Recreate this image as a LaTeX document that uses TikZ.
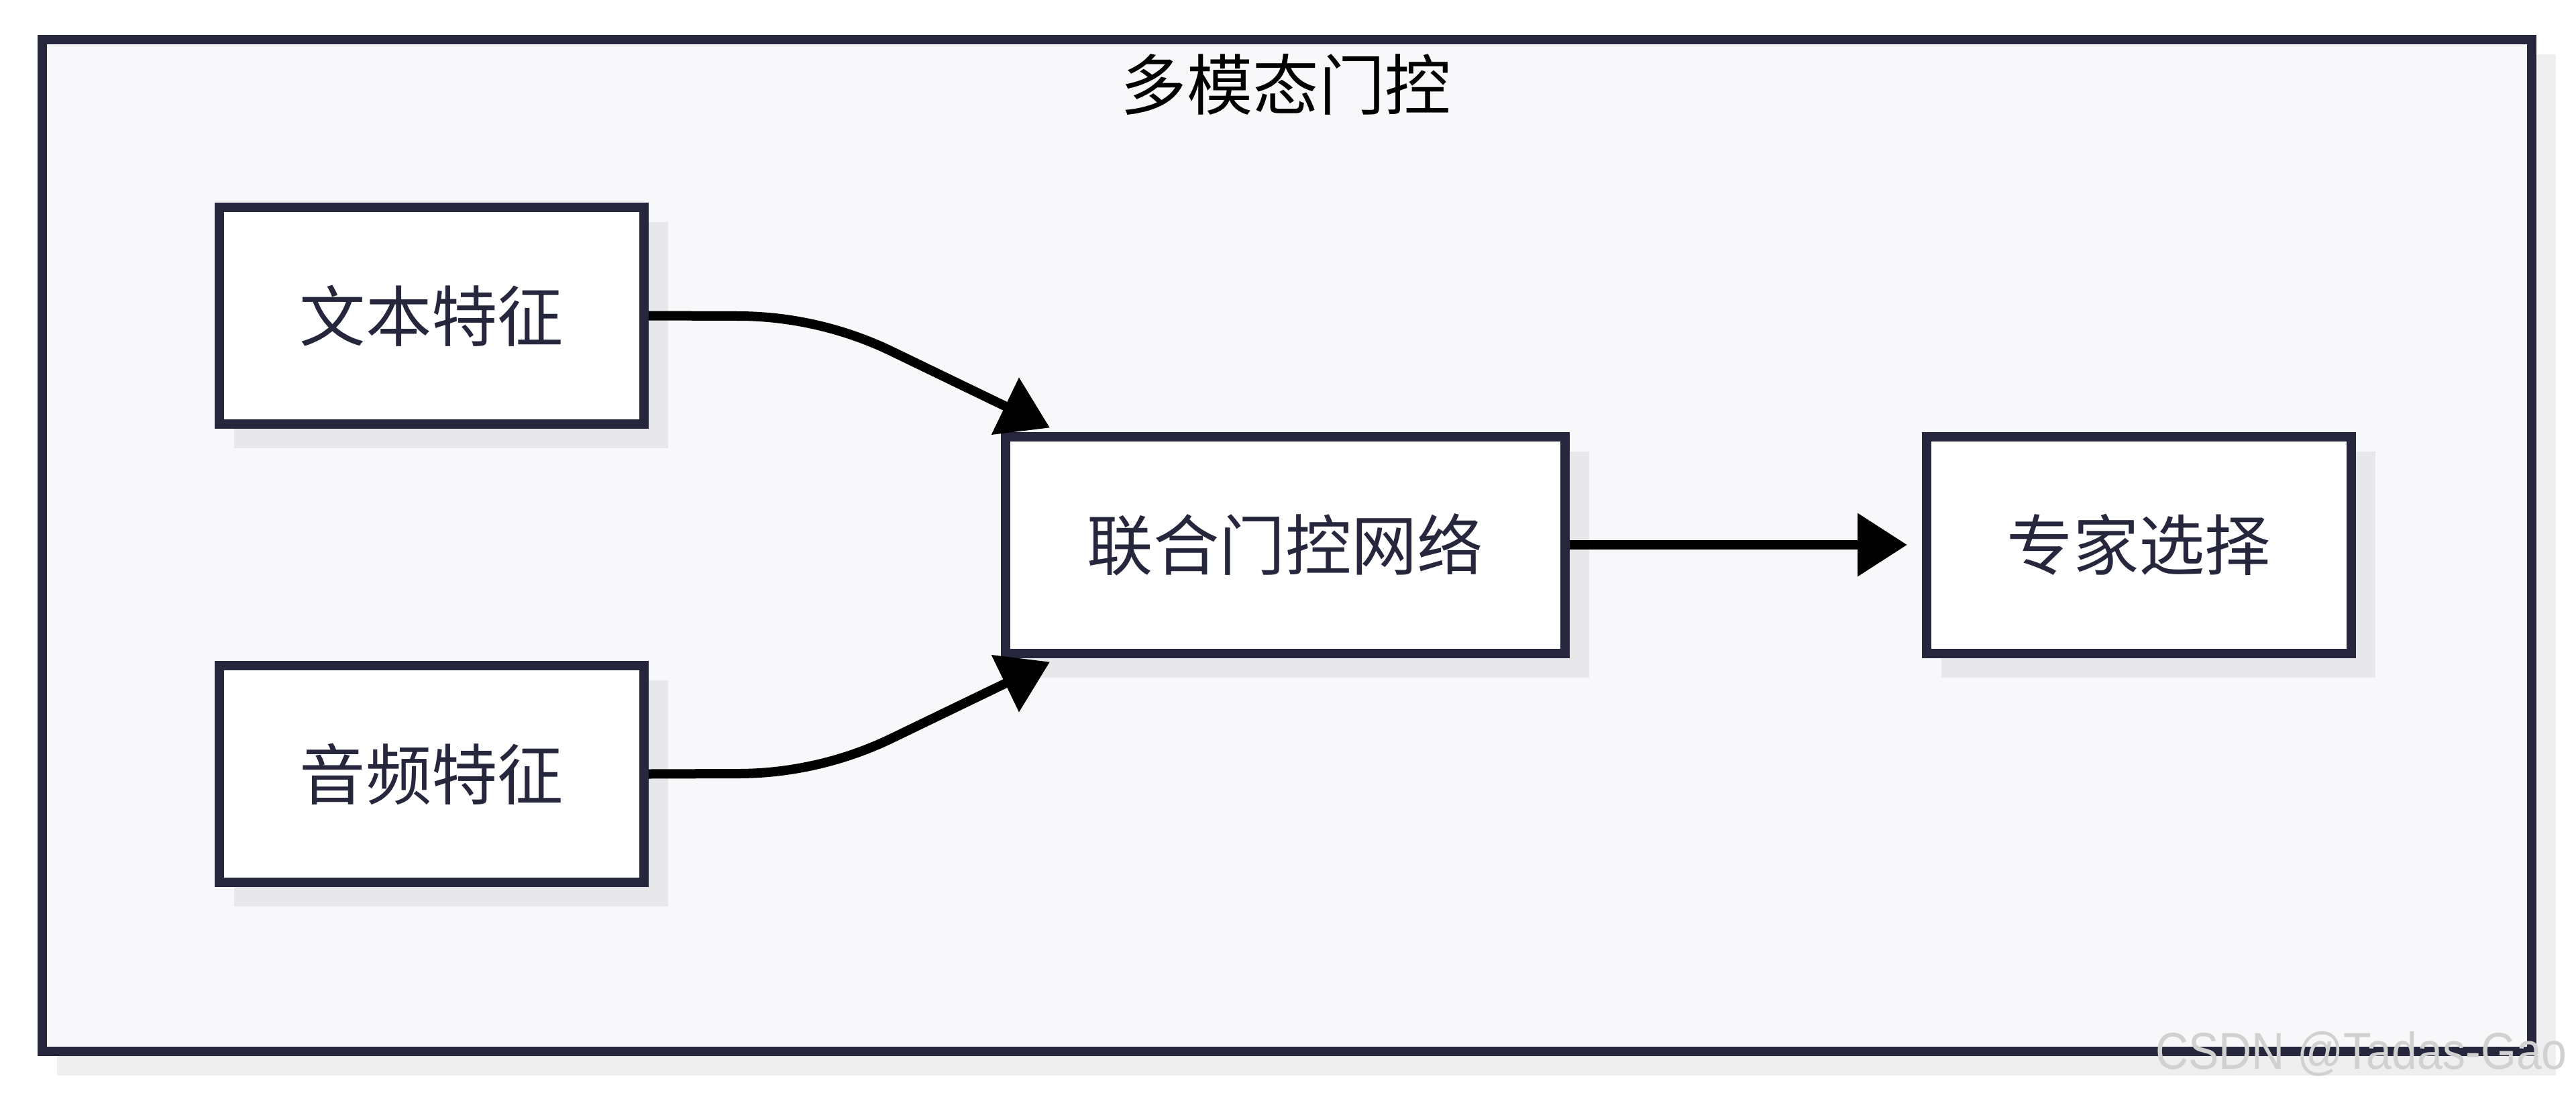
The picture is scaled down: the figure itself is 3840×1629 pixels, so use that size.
\documentclass[tikz,border=0pt]{standalone}
\usepackage{fontspec}
\setmainfont{Noto Sans CJK SC}
\newfontfamily\wmfont{Liberation Sans}
\usepackage{xcolor}
\usetikzlibrary{arrows.meta,positioning,calc,shadows}

\definecolor{navy}{HTML}{26263D}
\definecolor{shade}{HTML}{E8E8EB}
\definecolor{frameshade}{HTML}{EFEFF0}
\definecolor{framebg}{HTML}{F8F8FA}

\begin{document}
\begin{tikzpicture}[
  x=0.1mm,y=-0.1mm,
  every node/.style={font=\fontsize{28}{34}\selectfont},
  frame/.style={rectangle,draw=navy,fill=framebg,line width=1.4mm,minimum width=371.1mm,minimum height=150.8mm,inner sep=0pt,
    general shadow={fill=frameshade,draw=frameshade,shadow xshift=2.9mm,shadow yshift=-2.9mm}},
  box/.style={rectangle,draw=navy,fill=white,text=navy,line width=1.4mm,minimum width=63.3mm,minimum height=32.3mm,inner sep=0pt,
    general shadow={fill=shade,draw=shade,shadow xshift=2.9mm,shadow yshift=-2.9mm}},
  arc/.style={-{Triangle[length=7.4mm,width=9.1mm]},line width=1.4mm}
]
\useasboundingbox (0,0) rectangle (3840,1629);
\def\midy{812}
\node[frame] (gate) at (1918.5,813) {};
\node[text=black] (title) at (1917,126) {多模态门控};

\node[box] (txt) at (643.5,470.5) {文本特征};
\node[box] (aud) at (643.5,1153.5) {音频特征};
\node[box,minimum width=83.4mm] (joint) at (1916,\midy) {联合门控网络};
\node[box] (expert) at (3188.5,\midy) {专家选择};

% inputs bend into the gate network
\draw[arc] (txt.east) -- (1100,471) .. controls (1180,471) and (1260,490) .. (1330,524)
  -- ([shift={(73,-6)}]joint.north west);
\draw[arc] (aud.east) -- (1100,1153) .. controls (1180,1153) and (1260,1134) .. (1330,1100)
  -- ([shift={(73,6)}]joint.south west);
\draw[arc,shorten >=2.2mm] (joint) -- (expert);

\node[font=\wmfont\fontsize{22}{26}\selectfont,text=black!18,xscale=0.88,anchor=base] (wm) at (3520,1593) {CSDN @Tadas-Gao};
\end{tikzpicture}
\end{document}
